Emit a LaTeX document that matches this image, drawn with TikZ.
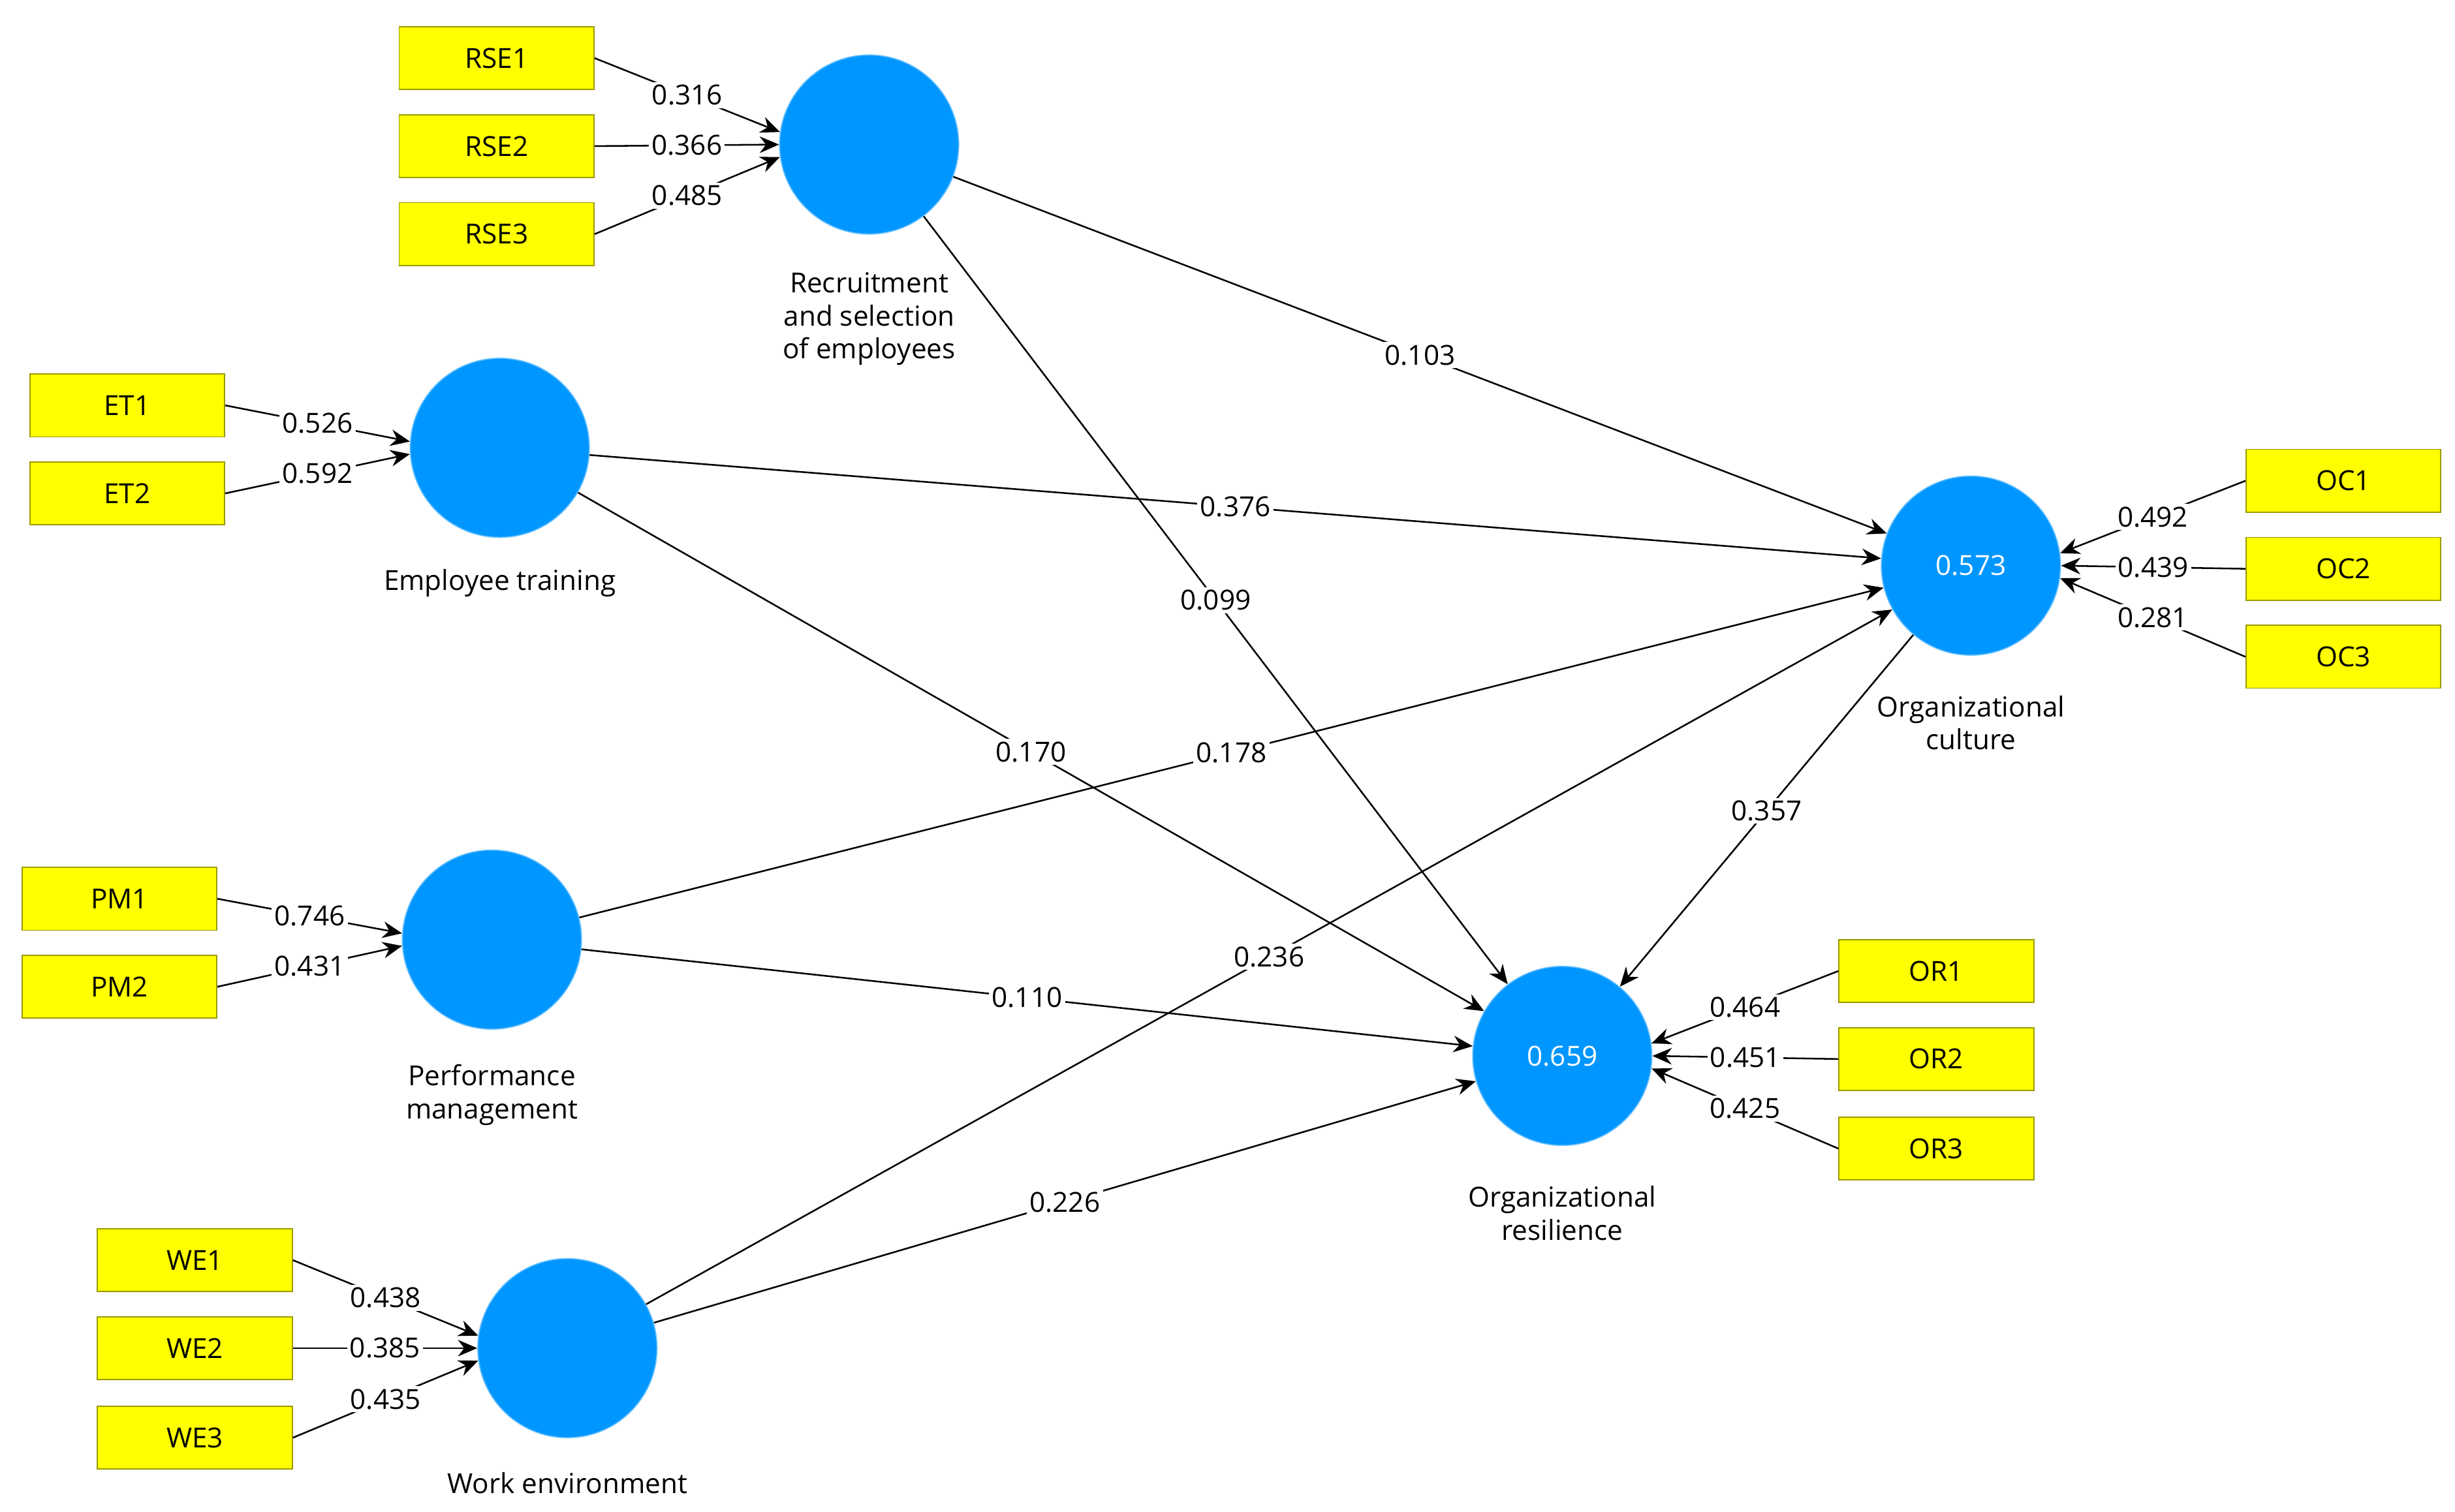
\documentclass[tikz,border=0pt]{standalone}
\usepackage{fontspec}
\setmainfont{Open Sans}
\usetikzlibrary{arrows.meta}
\definecolor{cblue}{RGB}{0,150,255}
\definecolor{ybox}{RGB}{255,255,0}
\begin{document}
\begin{tikzpicture}[x=0.02cm,y=-0.02cm,
 lv/.style={circle,fill=cblue,draw=cblue!60,minimum size=114\pgflinewidth,inner sep=0,minimum size=2.28cm,text=white,font=\fontsize{10}{12}\selectfont},
 ind/.style={rectangle,fill=ybox,draw=ybox!60!black,minimum width=2.48cm,minimum height=0.8cm,font=\fontsize{10}{12}\selectfont},
 lab/.style={font=\fontsize{10}{12}\selectfont,align=center},
 arr/.style={-{Stealth[length=7pt,width=6pt]},line width=0.6pt},
 w/.style={fill=white,inner sep=1pt,font=\fontsize{10}{12}\selectfont,pos=0.5}]
\useasboundingbox (0,0) rectangle (1562,962);
% latent variables
\node[lv] (RSE) at (553,92) {};
\node[lv] (ET) at (318,285) {};
\node[lv] (PM) at (313,598) {};
\node[lv] (WE) at (361,858) {};
\node[lv] (OC) at (1254,360) {0.573};
\node[lv] (OR) at (994,672) {0.659};
\node[lab] (lRSE) at (553,203) {Recruitment\\and selection\\of employees};
\node[lab] (lET) at (318,371) {Employee training};
\node[lab] (lPM) at (313,697) {Performance\\management};
\node[lab] (lWE) at (361,944) {Work environment};
\node[lab] (lOC) at (1254,460) {Organizational\\culture};
\node[lab] (lOR) at (994,772) {Organizational\\resilience};
% indicators
\node[ind] (RSE1) at (316,37) {RSE1};
\node[ind] (RSE2) at (316,93) {RSE2};
\node[ind] (RSE3) at (316,149) {RSE3};
\node[ind] (ET1) at (81,258) {ET1};
\node[ind] (ET2) at (81,314) {ET2};
\node[ind] (PM1) at (76,572) {PM1};
\node[ind] (PM2) at (76,628) {PM2};
\node[ind] (WE1) at (124,802) {WE1};
\node[ind] (WE2) at (124,858) {WE2};
\node[ind] (WE3) at (124,915) {WE3};
\node[ind] (OC1) at (1491,306) {OC1};
\node[ind] (OC2) at (1491,362) {OC2};
\node[ind] (OC3) at (1491,418) {OC3};
\node[ind] (OR1) at (1232,618) {OR1};
\node[ind] (OR2) at (1232,674) {OR2};
\node[ind] (OR3) at (1232,731) {OR3};
% outer weights
\draw[arr] (RSE1.east) -- node[w]{0.316} (RSE.172);
\draw[arr] (RSE2.east) -- node[w]{0.366} (RSE.180);
\draw[arr] (RSE3.east) -- node[w]{0.485} (RSE.188);
\draw[arr] (ET1.east) -- node[w]{0.526} (ET.176);
\draw[arr] (ET2.east) -- node[w]{0.592} (ET.184);
\draw[arr] (PM1.east) -- node[w]{0.746} (PM.176);
\draw[arr] (PM2.east) -- node[w]{0.431} (PM.184);
\draw[arr] (WE1.east) -- node[w]{0.438} (WE.172);
\draw[arr] (WE2.east) -- node[w]{0.385} (WE.180);
\draw[arr] (WE3.east) -- node[w]{0.435} (WE.188);
\draw[arr] (OC1.west) -- node[w]{0.492} (OC.8);
\draw[arr] (OC2.west) -- node[w]{0.439} (OC.0);
\draw[arr] (OC3.west) -- node[w]{0.281} (OC.-8);
\draw[arr] (OR1.west) -- node[w]{0.464} (OR.8);
\draw[arr] (OR2.west) -- node[w]{0.451} (OR.0);
\draw[arr] (OR3.west) -- node[w]{0.425} (OR.-8);
% structural paths
\draw[arr] (RSE) -- node[w]{0.103} (OC);
\draw[arr] (RSE) -- node[w]{0.099} (OR);
\draw[arr] (ET) -- node[w]{0.376} (OC);
\draw[arr] (ET) -- node[w]{0.170} (OR);
\draw[arr] (PM) -- node[w]{0.178} (OC);
\draw[arr] (PM) -- node[w]{0.110} (OR);
\draw[arr] (WE) -- node[w]{0.236} (OC);
\draw[arr] (WE) -- node[w]{0.226} (OR);
\draw[arr] (OC) -- node[w]{0.357} (OR);
\end{tikzpicture}
\end{document}
